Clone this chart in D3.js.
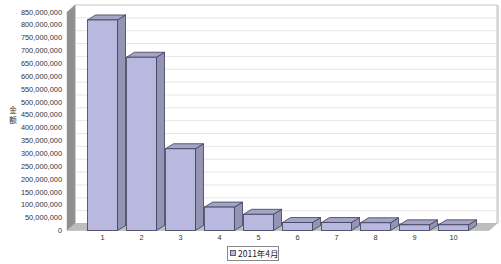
<!DOCTYPE html>
<html><head><meta charset="utf-8">
<script src="https://cdn.jsdelivr.net/npm/d3@7"></script>
<style>body{margin:0;background:#fff}svg{display:block}</style>
</head><body>
<script>
const categories = ["1","2","3","4","5","6","7","8","9","10"];
const values = [819000000, 674000000, 318000000, 91000000, 63000000, 31000000, 31000000, 30000000, 22000000, 22000000];
const yTicks = [0,50e6,100e6,150e6,200e6,250e6,300e6,350e6,400e6,450e6,500e6,550e6,600e6,650e6,700e6,750e6,800e6,850e6];
const seriesName = "2011年4月";
const yTitle = ["金","额"];

const W = 501, H = 264;
const svg = d3.select("body").append("svg").attr("width", W).attr("height", H);
const y = d3.scaleLinear().domain([0, 850e6]).range([230.5, 12]);
const x = d3.scaleBand().domain(categories).range([83, 473]).paddingInner(0.23).paddingOuter(0.115);
const wdx = 8, wdy = -7;   // wall depth
const bdx = 8, bdy = -5;   // bar depth
const x0 = 67, x1 = 489;

// back wall
svg.append("polygon")
  .attr("points", [[x0+wdx, y(850e6)+wdy],[x1+wdx, y(850e6)+wdy],[x1+wdx, y(0)+wdy],[x0+wdx, y(0)+wdy]].join(" "))
  .attr("fill", "#fff").attr("stroke", "#c8c8c8").attr("stroke-width", 1.2);
// gridlines on back wall
svg.append("g").selectAll("line").data(yTicks.slice(1, -1)).join("line")
  .attr("x1", x0+wdx).attr("x2", x1+wdx)
  .attr("y1", d => y(d)+wdy).attr("y2", d => y(d)+wdy)
  .attr("stroke", "#e6e6e6").attr("stroke-width", 1);
// right shadow edge
svg.append("line").attr("x1", x1+wdx+1).attr("x2", x1+wdx+1).attr("y1", y(850e6)+wdy).attr("y2", y(0)+wdy)
  .attr("stroke", "#d8d8d8").attr("stroke-width", 2);
// left wall
svg.append("polygon")
  .attr("points", [[x0, y(850e6)],[x0+wdx, y(850e6)+wdy],[x0+wdx, y(0)+wdy],[x0, y(0)]].join(" "))
  .attr("fill", "#8f8f8f").attr("stroke", "#9a9a9a").attr("stroke-width", 0.5);
// floor
svg.append("polygon")
  .attr("points", [[x0, y(0)],[x0+wdx, y(0)+wdy],[x1+wdx, y(0)+wdy],[x1, y(0)]].join(" "))
  .attr("fill", "#bdbdbd").attr("stroke", "#b0b0b0").attr("stroke-width", 0.5);

// bars
const bars = svg.append("g").selectAll("g").data(categories.map((c, i) => ({c, v: values[i]}))).join("g");
const bw = x.bandwidth();
bars.append("polygon") // side
  .attr("points", d => { const l = x(d.c)+bw, t = y(d.v), b = y(0);
    return [[l, t],[l+bdx, t+bdy],[l+bdx, b+bdy],[l, b]].join(" "); })
  .attr("fill", "#9494b4").attr("stroke", "#3c3c5a").attr("stroke-width", 0.8).attr("stroke-linejoin", "round");
bars.append("polygon") // top
  .attr("points", d => { const l = x(d.c), t = y(d.v);
    return [[l, t],[l+bdx, t+bdy],[l+bw+bdx, t+bdy],[l+bw, t]].join(" "); })
  .attr("fill", "#a4a4c4").attr("stroke", "#3c3c5a").attr("stroke-width", 0.8).attr("stroke-linejoin", "round");
bars.append("rect") // front
  .attr("x", d => x(d.c)).attr("y", d => y(d.v))
  .attr("width", bw).attr("height", d => y(0) - y(d.v))
  .attr("fill", "#b9b9e0").attr("stroke", "#3c3c5a").attr("stroke-width", 0.8);

// y axis labels
const fmt = d3.format(",");
svg.append("g").selectAll("text").data(yTicks).join("text")
  .attr("x", 62).attr("y", d => y(d)).attr("dy", "0.35em")
  .attr("text-anchor", "end").attr("font-family", "Liberation Sans, Arial, sans-serif")
  .attr("font-size", 7.4).attr("fill", "#333").text(d => fmt(d));
// x axis labels
svg.append("g").selectAll("text").data(categories).join("text")
  .attr("x", d => x(d) + bw/2).attr("y", 240)
  .attr("text-anchor", "middle").attr("font-family", "Liberation Sans, Arial, sans-serif")
  .attr("font-size", 7.4).attr("fill", "#333").text(d => d);
// y title stacked
svg.append("g").selectAll("text").data(yTitle).join("text")
  .attr("x", 13).attr("y", (d, i) => 113 + i*10)
  .attr("text-anchor", "middle").attr("font-family", "Noto Sans CJK SC, sans-serif")
  .attr("font-size", 7.5).attr("fill", "#333").text(d => d);

// legend
const lg = svg.append("g");
lg.append("rect").attr("x", 227.5).attr("y", 246.5).attr("width", 51).attr("height", 14)
  .attr("fill", "#fff").attr("stroke", "#888").attr("stroke-width", 1);
lg.append("rect").attr("x", 230.5).attr("y", 250.5).attr("width", 5).attr("height", 5)
  .attr("fill", "#b9b9e0").attr("stroke", "#3c3c5a").attr("stroke-width", 0.8);
lg.append("text").attr("x", 238).attr("y", 257).attr("font-family", "Noto Sans CJK SC, Liberation Sans, sans-serif")
  .attr("font-size", 8.5).attr("fill", "#222").text(seriesName);
</script>
</body></html>
